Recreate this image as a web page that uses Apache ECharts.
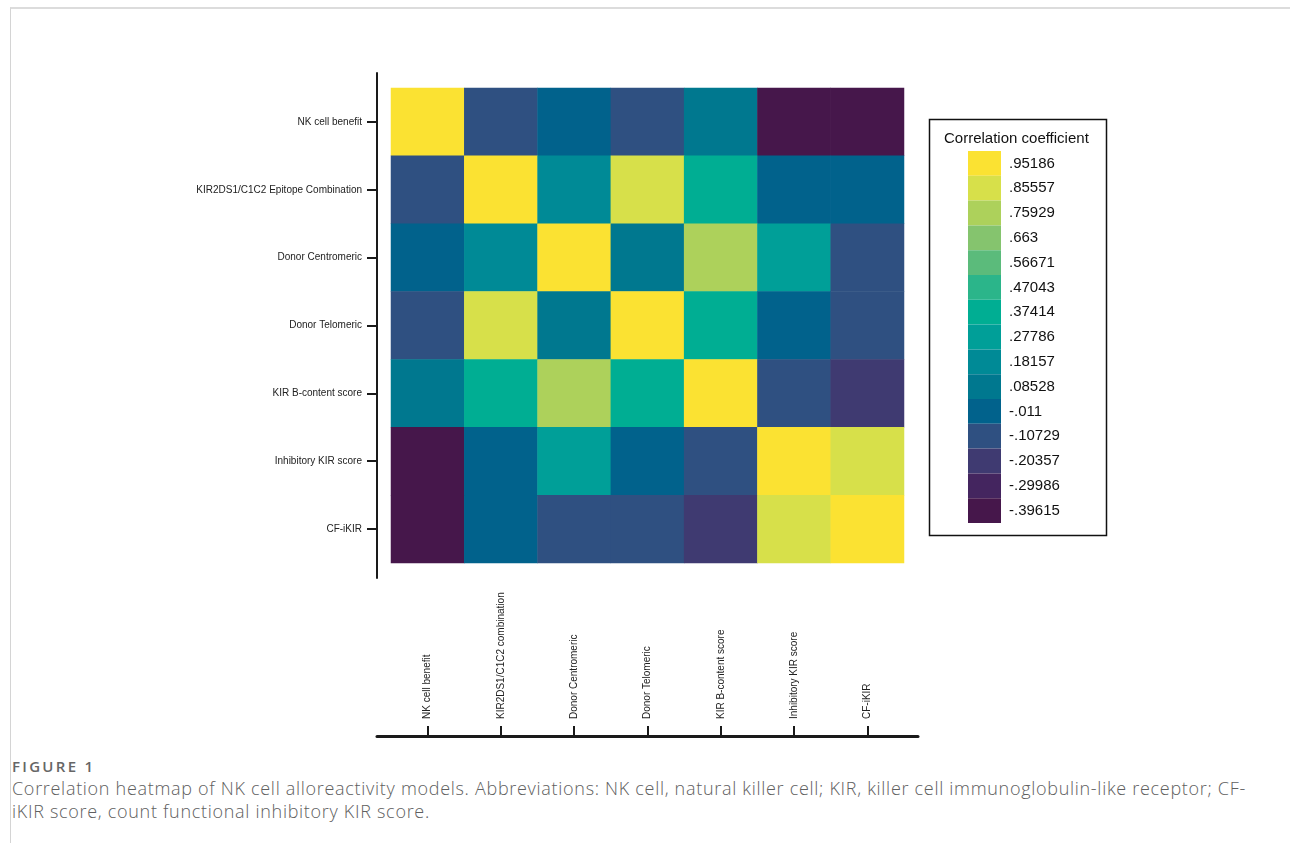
<!DOCTYPE html>
<html>
<head>
<meta charset="utf-8">
<script src="https://cdn.jsdelivr.net/npm/echarts@6/dist/echarts.min.js"></script>
<style>
  html, body { margin: 0; padding: 0; background: #fff; }
  #frame { position: absolute; left: 10px; top: 7px; width: 1290px; height: 850px;
           border-top: 2px solid #dcdcdc; border-left: 1px solid #d4d4d4; }
  #chart { position: absolute; left: 0; top: 0; width: 1290px; height: 750px; }
  #caption { position: absolute; left: 12px; top: 756px; width: 1275px; color: #606060;
             font-family: "Open Sans", "Noto Sans", sans-serif; }
  #caption .fig { font-size: 15px; font-weight: 600; letter-spacing: 2.3px; margin-bottom: 1px; color: #666; }
  #caption .txt { font-size: 18px; font-weight: 300; letter-spacing: 0.7px; line-height: 23px; }
</style>
</head>
<body>
<div id="frame"></div>
<div id="chart"></div>
<div id="caption">
  <div class="fig">FIGURE 1</div>
  <div class="txt">Correlation heatmap of NK cell alloreactivity models. Abbreviations: NK cell, natural killer cell; KIR, killer cell immunoglobulin-like receptor; CF-<br>iKIR score, count functional inhibitory KIR score.</div>
</div>
<script>
    "use strict";
    // row labels (top to bottom) and column labels (left to right)
    var rowNames = ['NK cell benefit', 'KIR2DS1/C1C2 Epitope Combination', 'Donor Centromeric',
        'Donor Telomeric', 'KIR B-content score', 'Inhibitory KIR score', 'CF-iKIR'];
    var colNames = ['NK cell benefit', 'KIR2DS1/C1C2 combination', 'Donor Centromeric',
        'Donor Telomeric', 'KIR B-content score', 'Inhibitory KIR score', 'CF-iKIR'];

    // correlation matrix
    var corr = [
        [ 1.00, -0.11, -0.01, -0.11,  0.09, -0.40, -0.40],
        [-0.11,  1.00,  0.18,  0.86,  0.37, -0.01, -0.01],
        [-0.01,  0.18,  1.00,  0.09,  0.76,  0.28, -0.11],
        [-0.11,  0.86,  0.09,  1.00,  0.37, -0.01, -0.11],
        [ 0.09,  0.37,  0.76,  0.37,  1.00, -0.11, -0.20],
        [-0.40, -0.01,  0.28, -0.01, -0.11,  1.00,  0.86],
        [-0.40, -0.01, -0.11, -0.11, -0.20,  0.86,  1.00]
    ];

    // legend bins, low to high
    var binLabels = ['-.39615', '-.29986', '-.20357', '-.10729', '-.011', '.08528', '.18157',
        '.27786', '.37414', '.47043', '.56671', '.663', '.75929', '.85557', '.95186'];
    var binColors = ['#46174b', '#44255f', '#3f3a71', '#2f5081', '#01628c', '#00788f', '#008a96',
        '#009f98', '#00ae93', '#2bb58a', '#5bbb7b', '#85c46e', '#add15b', '#d7e04a', '#fbe232'];

    var pieces = binLabels.map(function (lab, i) {
        var c = parseFloat(lab);
        var step = 0.0962864;
        var p = { label: lab, color: binColors[i] };
        if (i > 0) p.min = c - step / 2;
        if (i < binLabels.length - 1) p.max = c + step / 2;
        return p;
    });

    var heatData = [];
    corr.forEach(function (row, r) {
        row.forEach(function (v, c) {
            heatData.push([c, r, v]);
        });
    });

    var axisFont = { fontFamily: 'Liberation Sans, Arial, sans-serif', fontSize: 10, color: '#222' };
    var lineColor = '#1a1a1a';

    var myChart = echarts.init(document.getElementById('chart'));
    var option = {
        backgroundColor: 'transparent',
        animation: false,
        grid: [
            { left: 391, top: 88, width: 513, height: 475 },
            { left: 377, top: 73, width: 1, height: 505 },
            { left: 391, top: 735, width: 513, height: 1 },
            { left: 377, top: 735, width: 541, height: 1 }
        ],
        xAxis: [
            { gridIndex: 0, type: 'category', data: colNames, show: false },
            { gridIndex: 1, type: 'value', show: false },
            {
                gridIndex: 2, type: 'category', data: colNames, position: 'top',
                axisLine: { show: false },
                axisTick: { show: true, alignWithLabel: true, length: 10, lineStyle: { color: lineColor, width: 2 } },
                axisLabel: Object.assign({ rotate: 90, margin: 16, interval: 0 }, axisFont),
                splitLine: { show: false }
            },
            {
                gridIndex: 3, type: 'value', min: 0, max: 1,
                axisLine: { show: true, onZero: false, lineStyle: { color: lineColor, width: 3 } },
                axisTick: { show: false }, axisLabel: { show: false }, splitLine: { show: false }
            }
        ],
        yAxis: [
            {
                gridIndex: 0, type: 'category', data: rowNames, inverse: true, offset: 14,
                axisLine: { show: false },
                axisTick: { show: true, alignWithLabel: true, length: 10, lineStyle: { color: lineColor, width: 2 } },
                axisLabel: Object.assign({ margin: 15, interval: 0 }, axisFont),
                splitLine: { show: false }
            },
            {
                gridIndex: 1, type: 'value', min: 0, max: 1,
                axisLine: { show: true, onZero: false, lineStyle: { color: lineColor, width: 2 } },
                axisTick: { show: false }, axisLabel: { show: false }, splitLine: { show: false }
            },
            { gridIndex: 2, type: 'value', show: false },
            { gridIndex: 3, type: 'value', show: false }
        ],
        visualMap: {
            type: 'piecewise',
            seriesIndex: 0,
            pieces: pieces,
            orient: 'vertical',
            align: 'left',
            left: 968,
            top: 151,
            padding: 0,
            itemWidth: 33,
            itemHeight: 24.8,
            itemGap: 0,
            itemSymbol: 'rect',
            textGap: 8,
            hoverLink: false,
            selectedMode: false,
            textStyle: { fontFamily: 'Liberation Sans, Arial, sans-serif', fontSize: 15, color: '#111' }
        },
        graphic: [
            {
                type: 'rect', left: 927, top: 117,
                shape: { width: 177, height: 416 },
                style: { fill: 'none', stroke: '#111', lineWidth: 1.5 }
            },
            {
                type: 'text', left: 944, top: 131,
                style: { text: 'Correlation coefficient', fill: '#111', fontSize: 15,
                         fontFamily: 'Liberation Sans, Arial, sans-serif' }
            }
        ],
        series: [
            {
                type: 'heatmap',
                xAxisIndex: 0,
                yAxisIndex: 0,
                data: heatData,
                itemStyle: { borderWidth: 0 }
            }
        ]
    };
    myChart.setOption(option);
</script>
</body>
</html>
